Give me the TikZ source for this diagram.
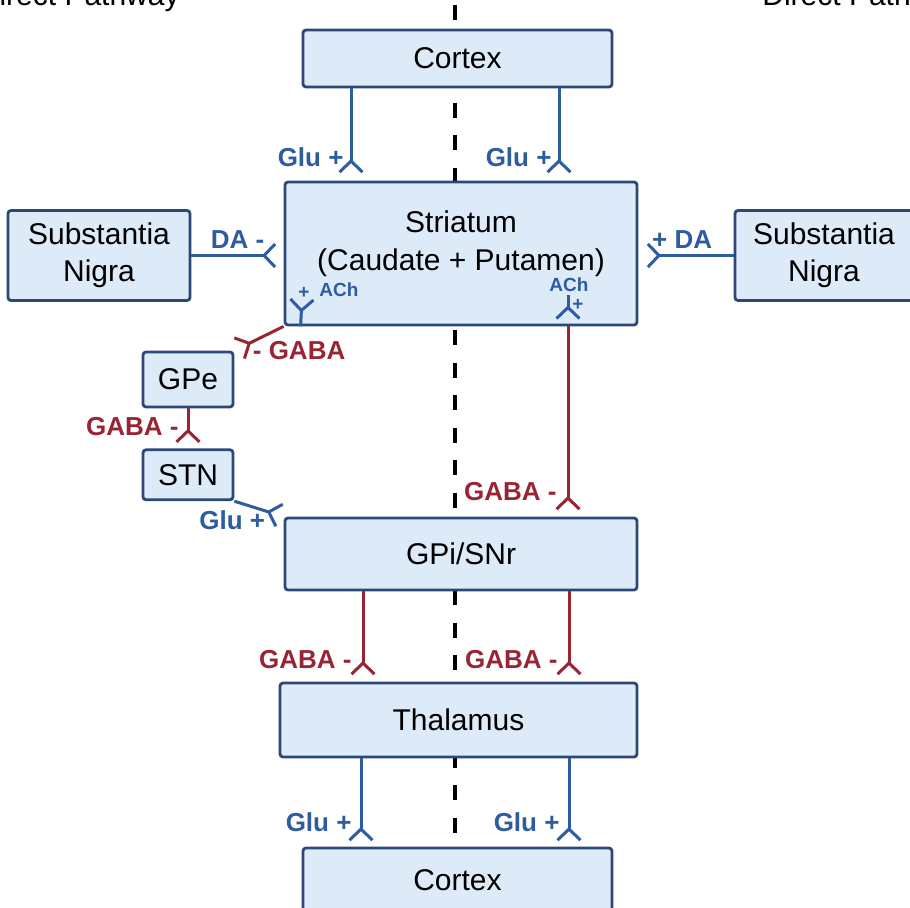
\documentclass[tikz,border=0pt]{standalone}
\usepackage{fontspec}
\setmainfont{Liberation Sans}
\usetikzlibrary{positioning}
\usetikzlibrary{arrows.meta}

\definecolor{boxfill}{RGB}{221,235,249}
\definecolor{boxline}{RGB}{44,72,120}
\definecolor{glublue}{RGB}{46,92,160}
\definecolor{gabared}{RGB}{152,36,52}

\tikzset{
	syn/.tip={Straight Barb[reversed,length=5.5pt,width=11.5pt]},
	region/.style={draw=boxline,fill=boxfill,line width=1.4pt,rounded corners=1.5pt,
		font=\fontsize{15}{18.5}\selectfont,align=center,inner sep=0pt},
	glu/.style={draw=glublue,line width=1.5pt,-syn},
	gaba/.style={draw=gabared,line width=1.5pt,-syn},
	glulbl/.style={text=glublue,font=\bfseries\fontsize{13}{15}\selectfont,inner sep=0pt},
	gabalbl/.style={text=gabared,font=\bfseries\fontsize{13}{15}\selectfont,inner sep=0pt},
	achlbl/.style={text=glublue,font=\bfseries\fontsize{9.5}{11}\selectfont,inner sep=0pt},
	divider/.style={black,line width=2pt,dash pattern=on 7.5pt off 8.75pt}
}

\begin{document}
\begin{tikzpicture}[x=0.5pt,y=-0.5pt]
	\useasboundingbox (0,0) rectangle (910,907);
	\clip (0,0) rectangle (910,907);

	% divider between the two pathways
	\coordinate (divtop) at (455,5);
	\coordinate (divbot) at (455,850);
	\draw[divider] (divtop) -- (divbot);

	\node[anchor=base east,inner sep=0pt,font=\fontsize{15}{18}\selectfont] (indirect) at (180,5) {Indirect Pathway};
	\node[anchor=base west,inner sep=0pt,font=\fontsize{15}{18}\selectfont] (direct) at (762,5) {Direct Pathway};

	% regions
	\node[region,minimum width=154.5pt,minimum height=28.5pt] (cortexT) at (457.5,58.5) {Cortex};
	\node[region,minimum width=176pt,minimum height=71.5pt] (striatum) at (461,253.5) {};
	\node[font=\fontsize{15}{19}\selectfont,align=center,inner sep=0pt] (striatumtxt) at (461,243.5) {Striatum\\(Caudate + Putamen)};
	\node[region,minimum width=91pt,minimum height=45pt] (snL) at (99,255.5) {Substantia\\Nigra};
	\node[region,minimum width=89pt,minimum height=45pt] (snR) at (824,255.5) {Substantia\\Nigra};
	\node[region,minimum width=45pt,minimum height=27.5pt] (gpe) at (188,379.5) {GPe};
	\node[region,minimum width=45pt,minimum height=25pt,below=20pt of gpe] (stn) {STN};
	\node[region,minimum width=176pt,minimum height=36pt] (gpi) at (461,554) {GPi/SNr};
	\node[region,minimum width=178.5pt,minimum height=37pt] (thal) at (458.5,720) {Thalamus};
	\node[region,minimum width=154.5pt,minimum height=32pt] (cortexB) at (457.5,880) {Cortex};

	% columns of the vertical connectors
	\coordinate (cL) at (351,0);
	\coordinate (cR) at (559,0);
	\coordinate (dR) at (568,0);
	\coordinate (gL) at (363,0);
	\coordinate (gR) at (569,0);
	\coordinate (tL) at (361,0);
	\coordinate (tR) at (569,0);

	% cortex -> striatum
	\draw[glu,shorten >=3.5pt] (cortexT.south -| cL) -- node[glulbl,pos=0.75,left=3pt] (gluA) {Glu +} (striatum.north -| cL);
	\draw[glu,shorten >=3.5pt] (cortexT.south -| cR) -- node[glulbl,pos=0.75,left=3pt] (gluB) {Glu +} (striatum.north -| cR);

	% dopamine
	\draw[glu,shorten >=3.5pt] (snL.east) -- node[glulbl,pos=0.5,above=3pt] (daL) {DA -} (striatum.west |- snL.east);
	\draw[glu,shorten >=4pt] (snR.west) -- node[glulbl,pos=0.54,above=3pt] (daR) {+ DA} (striatum.east |- snR.west);

	% acetylcholine
	\coordinate (achL0) at ([xshift=8.5pt]striatum.south west);
	\coordinate (achL1) at (302,298);
	\draw[glu] (achL0) -- (achL1);
	\node[achlbl] (achLplus) at (304,293) {+};
	\node[achlbl] (achLtxt) at (339,290) {ACh};
	\coordinate (achR0) at (568,295);
	\coordinate (achR1) at (568,320);
	\draw[glu] (achR0) -- (achR1);
	\node[achlbl] (achRtxt) at (569,285) {ACh};
	\node[achlbl] (achRplus) at (578,305) {+};

	% indirect pathway
	\draw[gaba,shorten >=2pt] (striatum.south west) -- (gpe.north east) node[gabalbl,pos=1,right=8.5pt] (gabaA) {- GABA};
	\draw[gaba,shorten >=2.5pt] (gpe.south) -- node[gabalbl,pos=0.45,left=4pt] (gabaB) {GABA -} (stn.north);
	\draw[glu,shorten >=1.5pt] (stn.south east) -- (gpi.north west) node[glulbl,pos=1,left=8.5pt,yshift=-2pt] (gluC) {Glu +};

	% direct pathway
	\draw[gaba,shorten >=3pt] (striatum.south -| dR) -- node[gabalbl,pos=0.87,left=5pt] (gabaC) {GABA -} (gpi.north -| dR);

	% output to thalamus and cortex
	\draw[gaba,shorten >=3pt] (gpi.south -| gL) -- node[gabalbl,pos=0.75,left=5pt] (gabaD) {GABA -} (thal.north -| gL);
	\draw[gaba,shorten >=3pt] (gpi.south -| gR) -- node[gabalbl,pos=0.75,left=5pt] (gabaE) {GABA -} (thal.north -| gR);
	\draw[glu,shorten >=2.5pt] (thal.south -| tL) -- node[glulbl,pos=0.725,left=4pt] (gluD) {Glu +} (cortexB.north -| tL);
	\draw[glu,shorten >=2.5pt] (thal.south -| tR) -- node[glulbl,pos=0.725,left=4pt] (gluE) {Glu +} (cortexB.north -| tR);
\end{tikzpicture}
\end{document}
